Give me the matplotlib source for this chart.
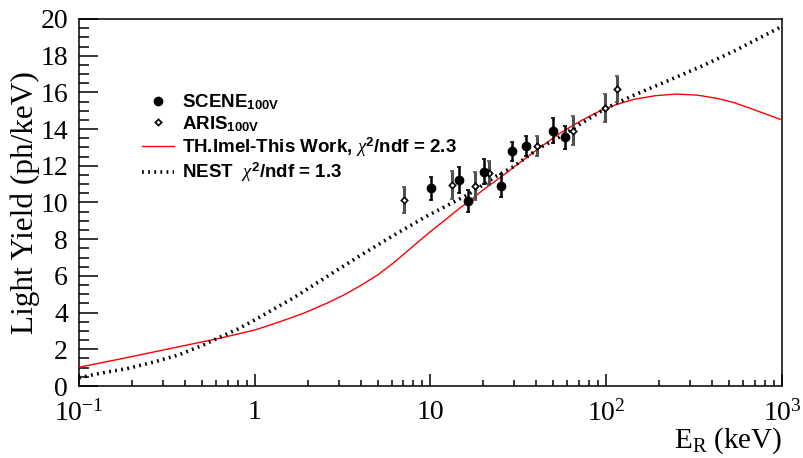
import numpy as np
import matplotlib.pyplot as plt
from matplotlib.ticker import FixedLocator, MultipleLocator, NullFormatter

plt.rcParams['font.family'] = 'Liberation Serif'
plt.rcParams['mathtext.fontset'] = 'custom'
plt.rcParams['mathtext.rm'] = 'Liberation Serif'
plt.rcParams['mathtext.it'] = 'Liberation Serif:italic'
plt.rcParams['mathtext.bf'] = 'Liberation Sans:bold'
plt.rcParams['mathtext.sf'] = 'Liberation Sans'

# SCENE 100V (filled points)
scene_e = [10.1, 14.5, 16.4, 20.2, 25.3, 29.1, 35.1, 49.8, 58.2]
scene_ly = [10.77, 11.23, 10.10, 11.68, 10.92, 12.79, 13.08, 13.91, 13.55]
scene_err = [0.63, 0.73, 0.6, 0.67, 0.62, 0.52, 0.55, 0.68, 0.63]

# ARIS 100V (open points)
aris_e = [7.1, 13.2, 17.9, 21.5, 40.5, 65.0, 98.4, 114.5]
aris_ly = [10.14, 10.94, 10.90, 11.59, 13.08, 13.91, 15.15, 16.19]
aris_err = [0.69, 0.76, 0.76, 0.65, 0.53, 0.8, 0.78, 0.72]

# TH.Imel model (red)
imel_e = [0.1, 0.19, 0.37, 0.63, 1.0, 1.39, 1.9, 2.56, 3.2, 3.97, 5.0,
          6.14, 7.7, 9.8, 12.3, 14.7, 16.5, 20, 26.5, 30, 41.3, 55, 73.2,
          92.5, 115, 143.6, 190, 251, 330, 425, 530, 661, 820, 1000]
imel_ly = [1.02, 1.56, 2.14, 2.6, 3.05, 3.5, 3.97, 4.5, 4.95, 5.45, 6.05,
           6.7, 7.5, 8.35, 9.1, 9.7, 10.05, 10.7, 11.55, 11.95, 12.95,
           13.8, 14.5, 15.0, 15.35, 15.62, 15.82, 15.91, 15.85, 15.68,
           15.45, 15.13, 14.8, 14.5]

# NEST model (dotted)
nest_e = [0.1, 0.13, 0.19, 0.27, 0.37, 0.5, 0.63, 0.8, 1.0, 1.66, 2.56,
          3.97, 6.14, 9.5, 13.4, 16.5, 23.3, 29.6, 41.3, 55, 73.2, 100,
          143.6, 220, 344, 533, 850, 1000]
nest_ly = [0.45, 0.68, 0.96, 1.32, 1.7, 2.2, 2.65, 3.1, 3.6, 4.8, 5.95,
           7.1, 8.2, 9.25, 10.0, 10.45, 11.4, 11.95, 12.95, 13.6, 14.35,
           15.15, 15.85, 16.6, 17.4, 18.25, 19.25, 19.6]

fig = plt.figure(figsize=(8.04, 4.58), dpi=100)
ax = fig.add_axes([79 / 804, 1 - 386 / 458, 703 / 804, 367 / 458])

l_imel, = ax.plot(imel_e, imel_ly, color='red', lw=1.0, zorder=3)
l_nest, = ax.plot(nest_e, nest_ly, color='black', lw=2.6,
                  linestyle=(0, (0.5, 1.2)), zorder=3)

ax.errorbar(aris_e, aris_ly, yerr=aris_err, fmt='none', ecolor='#505050',
            elinewidth=2.2, capsize=1.6, capthick=1.2, zorder=4)
h_aris, = ax.plot(aris_e, aris_ly, 'D', ms=3.2, mfc='white', mec='black',
                  mew=1.2, ls='none', zorder=5)
ax.errorbar(scene_e, scene_ly, yerr=scene_err, fmt='none', ecolor='black',
            elinewidth=1.8, capsize=1.6, capthick=1.2, zorder=4)
h_scene, = ax.plot(scene_e, scene_ly, 'o', ms=6, color='black', ls='none',
                   zorder=5)

ax.set_xscale('log')
ax.set_xlim(0.1, 1000)
ax.set_ylim(0, 20)

ax.xaxis.set_major_locator(FixedLocator([0.1, 1, 10, 100, 1000]))
ax.set_xticklabels(['$10^{-1}$', '1', '10', '$10^{2}$', '$10^{3}$'])
minors = [m * 10.0 ** d for d in range(-1, 3) for m in range(2, 10)]
ax.xaxis.set_minor_locator(FixedLocator(minors))
ax.xaxis.set_minor_formatter(NullFormatter())
ax.yaxis.set_major_locator(MultipleLocator(2))
ax.yaxis.set_minor_locator(MultipleLocator(0.5))

ax.tick_params(axis='both', which='both', direction='in', top=False,
               right=False, width=1.1, labelsize=20)
ax.tick_params(axis='y', which='major', length=14, pad=8)
ax.tick_params(axis='y', which='minor', length=7)
ax.tick_params(axis='x', which='major', length=9, pad=10)
ax.tick_params(axis='x', which='minor', length=4.5)
for sp in ax.spines.values():
    sp.set_linewidth(1.1)

ax.set_ylabel('Light Yield (ph/keV)', fontsize=22.5)
ax.yaxis.set_label_coords(-0.056, 0.5)
ax.text(1.0, -0.150, 'E$_{\\mathrm{R}}$ (keV)', transform=ax.transAxes,
        ha='right', va='center', fontsize=21)

leg = ax.legend([h_scene, h_aris, l_imel, l_nest],
                ['SCENE$_{\\mathbf{100V}}$', 'ARIS$_{\\mathbf{100V}}$',
                 'TH.Imel-This Work, $\\chi^{\\mathbf{2}}$/ndf = 2.3',
                 'NEST  $\\chi^{\\mathbf{2}}$/ndf = 1.3'],
                loc='upper left', bbox_to_anchor=(0.09, 0.80), frameon=False,
                prop={'family': 'Liberation Sans', 'weight': 'bold', 'size': 13.5},
                handlelength=1.7, handletextpad=0.43, labelspacing=0.1,
                borderaxespad=0, borderpad=0)

fig.savefig('out.png', dpi=100)
